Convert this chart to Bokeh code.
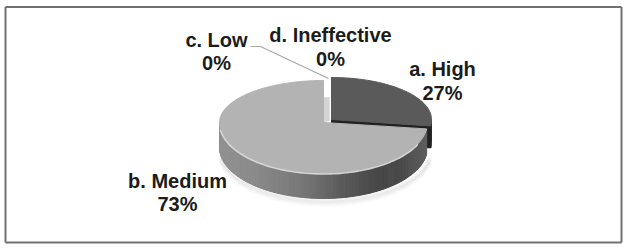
import numpy as np
from bokeh.plotting import figure
from bokeh.models import Range1d
from bokeh.core.properties import value
from bokeh.embed import file_html
from bokeh.resources import INLINE

names = ["a. High", "b. Medium", "c. Low", "d. Ineffective"]
shares = [27, 73, 0, 0]
label_pos = [(442, 68, 92), (177, 180, 203), (216, 39, 62), (330, 34, 58)]

W, H = 627, 248
p = figure(width=W, height=H, output_backend="svg", toolbar_location=None,
           x_range=Range1d(0, W), y_range=Range1d(H, 0), min_border=0,
           outline_line_color=None, background_fill_color="white",
           border_fill_color="white")
p.axis.visible = False
p.grid.visible = False
p.styles = {"position": "absolute", "left": "0px", "top": "0px"}

# frame
p.multi_line([[5, 621], [5, 621], [5, 5], [621, 621]],
             [[6.5, 6.5], [242, 242], [6.5, 242], [6.5, 242]],
             line_color="#707070", line_width=2)

DEPTH = 25
def rim(cx, cy, rx, a):
    a = np.asarray(a)
    ry = np.where(np.cos(a) > 0, 42.0, 51.0)
    return cx + rx * np.sin(a), cy - ry * np.cos(a)

total = sum(shares)
high_end = 2 * np.pi * shares[0] / total

# soft shadow under the pie
a_sh = np.radians(np.linspace(100, 262, 80))
for off, alpha in [(6, 0.05), (4, 0.07), (2, 0.09)]:
    xs, ys = rim(325, 122 + DEPTH + off, 106, a_sh)
    p.line(xs, ys, line_color="#808080", line_alpha=alpha, line_width=4)

# High slice: side, cut wall, top
hc = (331, 119, 100)
a_h = np.linspace(0, high_end, 60)
hx, hy = rim(*hc, a_h)
sx, sy = rim(*hc, np.linspace(np.pi / 2, high_end, 8))
p.patch(list(sx) + list(sx[::-1]), list(sy) + list((sy + DEPTH - 3)[::-1]),
        fill_color="#2b2b2b", line_color="#2b2b2b")
wall_x = [hc[0], hx[-1], hx[-1], hc[0]]
wall_y = [hc[1], hy[-1], hy[-1] + DEPTH - 3, hc[1] + DEPTH - 3]
p.patch(wall_x, wall_y, fill_color="#222222", line_color="#222222")
p.patch([hc[0]] + list(hx), [hc[1]] + list(hy), fill_color="#5a5a5a", line_color="#5a5a5a")

# Medium slice: side with a stepped shade, top, rim highlight
mc = (323, 122, 104)
a_m = np.linspace(high_end, 2 * np.pi, 220)
mx, my = rim(*mc, a_m)
stops_x = [219, 250, 300, 340, 375, 400, 428]
stops_v = [0x92, 0x8c, 0x78, 0x5c, 0x48, 0x4a, 0x62]
front = np.linspace(high_end, 3 * np.pi / 2, 130)
for a0, a1 in zip(front[:-1], front[1:]):
    x0, y0 = rim(*mc, a0)
    x1, y1 = rim(*mc, a1)
    v = int(np.interp((x0 + x1) / 2, stops_x, stops_v))
    c = f"#{v:02x}{v:02x}{v:02x}"
    p.patch([x0, x1, x1, x0], [y0, y1, y1 + DEPTH, y0 + DEPTH], fill_color=c, line_color=c, line_width=1)

# sliver of the lighter cut wall at the gap
p.patch([mc[0], mc[0] + 6, mc[0] + 6, mc[0]],
        [mc[1] - 25, mc[1] - 25, mc[1] - 2, mc[1]],
        fill_color="#d4d4d4", line_color="#d4d4d4", line_width=0.5)
p.patch([mc[0]] + list(mx), [mc[1]] + list(my), fill_color="#b3b3b3", line_color="#b3b3b3")
a_r = np.linspace(np.radians(115), np.radians(262), 80)
rx_, ry_ = rim(*mc, a_r)
p.line(rx_, ry_ + 0.5, line_color="#dcdcdc", line_width=1.6, line_alpha=0.9)

# leader line for c. Low
p.line([250, 260, 328], [46, 46, 78], line_color="#a8a8a8", line_width=1.2)

# labels
for name, share, (cx, y1, y2) in zip(names, shares, label_pos):
    p.text([cx], [y1], text=[name], text_align="center", text_baseline="middle",
           text_font=value("Liberation Sans"), text_font_style="bold",
           text_font_size="20px", text_color="#1c1c1c")
    p.text([cx], [y2], text=[f"{share}%"], text_align="center", text_baseline="middle",
           text_font=value("Liberation Sans"), text_font_style="bold",
           text_font_size="20px", text_color="#1c1c1c")

open("out.html", "w").write(file_html(p, INLINE))
